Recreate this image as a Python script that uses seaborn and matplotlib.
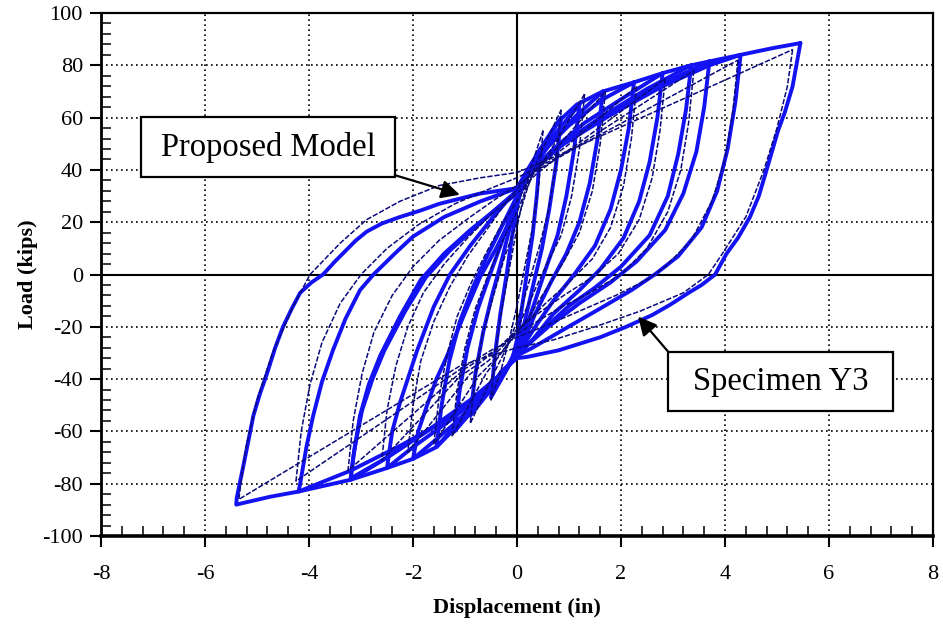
import numpy as np
import pandas as pd
import matplotlib
matplotlib.use("Agg")
import matplotlib.pyplot as plt
from matplotlib.ticker import MultipleLocator
from matplotlib.patches import Rectangle
import seaborn as sns

# ---------------- data ----------------
# Thick blue hysteresis loops: each list = one closed cycle (x = displacement in, y = load kips)
model_c1 = [(0.45,48),(0.38,30),(0.3,15),(0.2,2),(0.1,-12),(0,-25),(-0.1,-33),(-0.3,-40),(-0.5,-47),
            (-0.42,-30),(-0.32,-15),(-0.2,0),(-0.1,14),(0,26),(0.1,34),(0.25,41),(0.45,48)]
model_c2 = [(0.85,60),(0.75,42),(0.62,25),(0.48,10),(0.3,-5),(0.15,-18),(0,-28),(-0.2,-36),(-0.5,-44),(-0.9,-54),
            (-0.8,-38),(-0.65,-22),(-0.48,-8),(-0.3,5),(-0.15,17),(0,28),(0.2,38),(0.5,49),(0.85,60)]
model_c3 = [(1.2,65),(1.1,48),(0.95,30),(0.78,15),(0.55,2),(0.35,-10),(0.15,-22),(0,-30),(-0.25,-37),(-0.6,-46),(-1.2,-60),
            (-1.1,-44),(-0.95,-28),(-0.75,-13),(-0.52,0),(-0.3,12),(-0.1,24),(0.05,32),(0.3,41),(0.7,53),(1.2,65)]
model_c4 = [(1.65,70),(1.55,52),(1.4,35),(1.2,20),(0.95,8),(0.65,-3),(0.35,-15),(0.1,-27),(0,-31),(-0.3,-38),(-0.7,-47),(-1.1,-56),(-1.55,-66),
            (-1.45,-50),(-1.3,-33),(-1.1,-18),(-0.85,-5),(-0.6,6),(-0.3,18),(0,30),(0.25,39),(0.6,49),(1.1,60),(1.65,70)]
model_c5 = [(2.25,73.5),(2.15,56),(2.0,40),(1.8,25),(1.5,11),(1.1,0),(0.7,-10),(0.35,-20),(0,-31),(-0.3,-38),(-0.7,-47),(-1.2,-57),(-1.55,-63),(-2.0,-70.5),
            (-1.9,-60),(-1.74,-50.6),(-1.55,-40),(-1.35,-31.4),(-1.03,-16),(-0.71,-1),(-0.4,10),(-0.15,20),(0,28),(0.2,38),(0.5,47),(1.0,57),(1.65,67),(2.25,73.5)]
model_c6 = [(2.8,77),(2.7,60),(2.55,43),(2.35,28),(2.05,14),(1.6,2),(1.2,-6),(0.7,-15),(0.3,-25),(0,-31),(-0.3,-38),(-0.8,-48),(-1.3,-56),(-2.0,-66),(-2.5,-74),
            (-2.4,-60),(-2.25,-49),(-1.92,-29),(-1.6,-12.3),(-1.29,0),(-0.9,11),(-0.5,21),(-0.2,28),(0,32),(0.25,39),(0.7,48),(1.3,58),(2.0,67),(2.8,77)]
model_c7 = [(3.35,80),(3.25,63),(3.1,46),(2.9,30),(2.55,15),(2.0,3),(1.5,-5),(1.0,-12),(0.5,-21),(0.15,-28),(0,-31),(-0.3,-38),(-0.8,-47),(-1.5,-57),(-2.5,-70),(-3.2,-78.5),
            (-3.15,-70),(-3.02,-54),(-2.85,-42),(-2.63,-31),(-2.25,-16),(-1.85,-2),(-1.4,8),(-0.9,17),(-0.4,25),(0,31),(0.25,39),(0.8,49),(1.6,60),(2.5,71),(3.35,80)]
model_c8 = [(3.7,81.5),(3.6,64),(3.45,47),(3.2,31),(2.85,17),(2.3,5),(1.8,-3),(1.2,-11),(0.6,-20),(0.2,-27),(0,-31),(-0.3,-38),(-0.9,-48),(-1.6,-58),(-2.5,-70),(-3.2,-78),
            (-3.12,-66),(-2.98,-52),(-2.78,-40),(-2.55,-29),(-2.15,-14),(-1.75,-1),(-1.3,9),(-0.8,18),(-0.35,26),(0,32),(0.3,40),(0.9,50),(1.8,62),(2.8,73),(3.7,81.5)]
model_c9 = [(4.3,84),(4.2,66),(4.05,48),(3.85,32),(3.55,18),(3.1,7),(2.65,0),(2.2,-6),(1.6,-13),(0.9,-21),(0.3,-28),(0,-31),(-0.3,-38),(-0.8,-47),(-1.4,-56),(-2.2,-65),(-3.2,-75),(-4.2,-83),
            (-4.17,-80),(-4.05,-66),(-3.92,-54),(-3.75,-41),(-3.54,-29),(-3.3,-17),(-3.02,-6),(-2.76,0),(-2.35,8),(-2.0,14.5),(-1.4,22),(-0.7,28),(0,33),(0.3,41),(0.9,50),(1.8,61),(2.8,72),(3.7,80),(4.3,84)]
model_c10 = [(5.45,88.5),(5.3,72),(5.15,62),(5.02,55),(4.8,40),(4.65,30),(4.48,22),(4.25,14),(4.03,8),(3.81,0),(3.55,-4),(3.3,-7),(2.95,-11.5),(2.6,-15.5),(2.1,-20),(1.6,-24),(0.8,-29),(0.2,-31.5),(0,-32),(-0.3,-37),(-0.6,-46),(-0.9,-53),(-1.2,-59),(-1.55,-66),(-2.0,-70.5),(-2.5,-74),(-3.2,-78.5),(-4.2,-83),(-4.75,-85),(-5.4,-88),
             (-5.39,-85.5),(-5.23,-70),(-5.07,-54),(-4.95,-46),(-4.81,-38),(-4.65,-28),(-4.5,-20),(-4.33,-13),(-4.17,-7),(-3.95,-3),(-3.73,0),(-3.5,5),(-3.3,9),(-3.1,13),(-2.89,16.4),(-2.6,19.5),(-2.25,22),(-1.85,24.5),(-1.5,27),(-1.1,29),(-0.7,31),(0,33),(0.2,40),(0.45,48),(0.77,58),(1.15,65),(1.65,70),(2.25,73.5),(2.8,77),(3.35,80),(3.7,81.5),(4.3,84),(4.9,86.5),(5.45,88.5)]

# Thin dashed navy loops
spec_c1 = [(0.5,55),(0.42,35),(0.3,18),(0.15,3),(0,-12),(-0.15,-25),(-0.3,-36),(-0.5,-48),
           (-0.42,-30),(-0.3,-14),(-0.15,2),(0,18),(0.15,32),(0.3,43),(0.5,55)]
spec_c2 = [(0.85,63),(0.75,42),(0.6,24),(0.42,10),(0.2,-5),(0,-18),(-0.2,-28),(-0.45,-38),(-0.9,-57),
           (-0.8,-38),(-0.65,-22),(-0.45,-8),(-0.25,6),(0,20),(0.2,33),(0.4,44),(0.85,63)]
spec_c3 = [(1.3,69),(1.2,48),(1.05,30),(0.85,15),(0.55,3),(0.25,-10),(0,-21),(-0.3,-30),(-0.6,-38),(-1.25,-62),
           (-1.15,-44),(-1.0,-28),(-0.8,-13),(-0.55,0),(-0.25,14),(0,24),(0.3,38),(0.6,46),(1.3,69)]
spec_c4 = [(1.7,70),(1.6,50),(1.45,32),(1.2,16),(0.9,5),(0.55,-6),(0.2,-17),(-0.1,-25),(-0.4,-32),(-0.75,-39),(-1.6,-65),
           (-1.5,-47),(-1.35,-31),(-1.15,-16),(-0.9,-4),(-0.6,8),(-0.3,19),(0,28),(0.35,40),(0.75,48),(1.7,70)]
spec_c5 = [(2.3,72),(2.2,52),(2.05,34),(1.8,18),(1.45,6),(1.0,-3),(0.55,-11),(0.15,-19),(-0.2,-26),(-0.55,-33),(-0.9,-38),(-2.1,-68),
           (-2.0,-50),(-1.85,-33),(-1.6,-18),(-1.3,-5),(-0.95,7),(-0.55,18),(-0.2,28),(0.2,37),(0.6,44),(0.95,49),(2.3,72)]
spec_c6 = [(2.85,75),(2.75,55),(2.6,37),(2.35,21),(1.95,8),(1.45,-1),(0.9,-8),(0.4,-15),(0,-21),(-0.4,-29),(-0.8,-35),(-1.1,-39),(-2.6,-71),
           (-2.5,-52),(-2.33,-35),(-2.1,-20),(-1.8,-7),(-1.4,4),(-0.95,14),(-0.5,23),(0,31),(0.4,39),(0.8,45),(1.1,49),(2.85,75)]
spec_c7 = [(3.4,78),(3.3,58),(3.15,40),(2.9,24),(2.5,10),(2.0,0),(1.4,-7),(0.8,-13),(0.3,-19),(-0.1,-24),(-0.5,-30),(-1.0,-36),(-3.25,-75),
           (-3.15,-56),(-2.98,-38),(-2.75,-22),(-2.4,-8),(-2.0,3),(-1.5,13),(-0.9,22),(-0.4,29),(0,34),(0.4,40),(1.0,47),(3.4,78)]
spec_c8 = [(4.25,82),(4.15,62),(4.0,44),(3.75,28),(3.35,13),(2.85,3),(2.5,-2),(1.9,-8),(1.2,-14),(0.5,-20),(0,-24),(-0.5,-29),(-1.0,-35),(-4.25,-79),
           (-4.15,-60),(-3.98,-42),(-3.75,-26),(-3.4,-11),(-3.0,0),(-2.5,10),(-1.9,19),(-1.2,27),(-0.5,33),(0,37),(0.5,42),(1.0,47),(4.25,82)]
spec_c9 = [(5.3,86),(5.2,72),(5.0,56),(4.75,40),(4.4,22),(3.95,8),(3.68,0),(3.2,-7),(2.37,-14),(1.5,-20),(0.7,-25),(0,-28),(-0.5,-31),(-1.1,-35),(-5.35,-86),
           (-5.3,-78),(-5.2,-65),(-5.0,-48),(-4.7,-30),(-4.3,-12),(-3.98,0),(-3.4,12),(-2.89,21),(-2.25,28),(-1.5,34),(-0.7,37),(0,39),(0.5,43),(5.3,86)]

model_cycles = [model_c1, model_c2, model_c3, model_c4, model_c5, model_c6, model_c7, model_c8, model_c9, model_c10]
spec_cycles = [spec_c1, spec_c2, spec_c3, spec_c4, spec_c5, spec_c6, spec_c7, spec_c8, spec_c9]

x_ticks = [-8, -6, -4, -2, 0, 2, 4, 6, 8]
y_ticks = [-100, -80, -60, -40, -20, 0, 20, 40, 60, 80, 100]
label_model = "Proposed Model"
label_spec = "Specimen Y3"

# ---------------- build frames ----------------
def to_frame(cycles):
    rows = []
    for i, cyc in enumerate(cycles):
        for (x, y) in cyc:
            rows.append({"disp": x, "load": y, "cycle": i})
    return pd.DataFrame(rows)

df_model = to_frame(model_cycles)
df_spec = to_frame(spec_cycles)

# ---------------- style ----------------
sns.set_theme(style="white")
plt.rcParams["font.family"] = ["Liberation Serif", "DejaVu Serif"]
plt.rcParams["axes.unicode_minus"] = False
plt.rcParams["text.color"] = "black"
plt.rcParams["axes.labelcolor"] = "black"

fig = plt.figure(figsize=(9.43, 6.29), dpi=100)
ax = fig.add_axes([101/943, 1 - 536/629, (933-101)/943, (536-13)/629])

ax.set_xlim(-8, 8)
ax.set_ylim(-100, 100)

# grid
for xv in x_ticks[1:-1]:
    ax.axvline(xv, color="black", lw=1.2, ls=(0, (1, 2.0)), zorder=0)
for yv in y_ticks[1:-1]:
    ax.axhline(yv, color="black", lw=1.2, ls=(0, (1, 2.0)), zorder=0)
ax.axhline(0, color="black", lw=1.5, zorder=1)
ax.axvline(0, color="black", lw=1.5, zorder=1)

sns.lineplot(data=df_model, x="disp", y="load", units="cycle", estimator=None, sort=False,
             color="#1212f2", lw=2.8, ax=ax, zorder=3)
n_model_lines = len(ax.get_lines())
sns.lineplot(data=df_spec, x="disp", y="load", units="cycle", estimator=None, sort=False,
             color="#0a0a7a", lw=1.1, ax=ax, zorder=4)
all_lines = ax.get_lines()
for ln in all_lines:
    ln.set_solid_joinstyle("round")
    ln.set_dash_joinstyle("round")
for ln in all_lines[n_model_lines:]:
    ln.set_linestyle((0, (3.5, 1.2)))

# ticks
ax.set_xticks(x_ticks)
ax.set_yticks(y_ticks)
ax.xaxis.set_minor_locator(MultipleLocator(0.4))
ax.yaxis.set_minor_locator(MultipleLocator(4))
ax.tick_params(axis="both", which="major", direction="out", length=8, width=1.5,
               labelsize=16, colors="black", bottom=True, left=True, top=False, right=False)
ax.tick_params(axis="x", which="major", pad=13)
ax.tick_params(axis="y", which="major", pad=5)
ax.tick_params(axis="both", which="minor", direction="in", length=7, width=1.3,
               bottom=True, left=True, top=False, right=False)

for side, lw in (("left", 2.0), ("bottom", 2.6), ("top", 1.6), ("right", 1.6)):
    ax.spines[side].set_visible(True)
    ax.spines[side].set_color("black")
    ax.spines[side].set_linewidth(lw)

ax.set_xlabel("Displacement (in)", fontsize=16, fontweight="bold", labelpad=10, color="black")
ax.set_ylabel("Load (kips)", fontsize=16, fontweight="bold", labelpad=3, color="black")

# annotation boxes
ax.add_patch(Rectangle((-7.23, 37.3), 4.88, 22.9, facecolor="white", edgecolor="black", lw=1.6, zorder=6))
ax.text(-4.79, 48.4, label_model, fontsize=23.5, ha="center", va="center", zorder=7, color="black")
ax.annotate("", xy=(-1.1, 30.5), xytext=(-2.35, 38.0),
            arrowprops=dict(arrowstyle="-|>", mutation_scale=28, color="black", lw=1.6,
                            shrinkA=0, shrinkB=0), zorder=7)

ax.add_patch(Rectangle((2.90, -52.2), 4.33, 22.6, facecolor="white", edgecolor="black", lw=1.6, zorder=6))
ax.text(5.07, -40.9, label_spec, fontsize=23.5, ha="center", va="center", zorder=7, color="black")
ax.annotate("", xy=(2.33, -16.1), xytext=(2.91, -29.6),
            arrowprops=dict(arrowstyle="-|>", mutation_scale=28, color="black", lw=1.6,
                            shrinkA=0, shrinkB=0), zorder=7)

fig.savefig("out.png", dpi=100, facecolor="white")
